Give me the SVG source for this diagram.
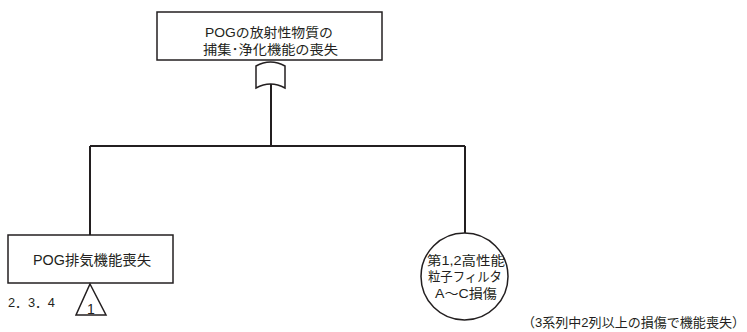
<svg xmlns="http://www.w3.org/2000/svg" width="747" height="332" viewBox="0 0 747 332">
<style>
.box{fill:#fff;stroke:#231f20;stroke-width:1.5}
.ln{fill:none;stroke:#231f20;stroke-width:2}
.t{font-family:"Liberation Sans","Noto Sans CJK JP",sans-serif;fill:#231f20;text-anchor:middle}
</style>
<rect width="747" height="332" fill="#fff"/>
<g id="connectors">
<path class="ln" d="M271 84V146M90 146H465M90 146V235M465 146V233"/>
</g>
<g id="top">
<rect class="box" x="157" y="12" width="225" height="48"/>
<text class="t" x="269" y="37" font-size="13" textLength="128" lengthAdjust="spacingAndGlyphs">POGの放射性物質の</text>
<text class="t" x="270.5" y="54" font-size="13" textLength="135" lengthAdjust="spacingAndGlyphs">捕集･浄化機能の喪失</text>
</g>
<g id="or-gate">
<path class="box" d="M256 66Q270.5 58 285 66V88Q270.5 80 256 88Z"/>
</g>
<g id="pog">
<rect class="box" x="8" y="235" width="165" height="48"/>
<text class="t" x="92" y="265" font-size="14" textLength="118" lengthAdjust="spacingAndGlyphs">POG排気機能喪失</text>
</g>
<g id="transfer">
<polygon class="box" points="90,284 106,315 76,315"/>
<text class="t" x="91" y="314" font-size="14">1</text>
<text class="t" x="31.5" y="307" font-size="13" style="text-anchor:middle" textLength="47" lengthAdjust="spacingAndGlyphs">2．3．4</text>
</g>
<g id="filter">
<circle class="box" cx="464.5" cy="276.5" r="43.5"/>
<text class="t" x="466" y="265" font-size="13" textLength="78" lengthAdjust="spacingAndGlyphs">第1,2高性能</text>
<text class="t" x="465" y="281" font-size="13" textLength="74" lengthAdjust="spacingAndGlyphs">粒子フィルタ</text>
<text class="t" x="466" y="298" font-size="13" textLength="62" lengthAdjust="spacingAndGlyphs">A～C損傷</text>
</g>
<text class="t" x="633.5" y="327" font-size="13" textLength="223" lengthAdjust="spacingAndGlyphs">（3系列中2列以上の損傷で機能喪失）</text>
</svg>
